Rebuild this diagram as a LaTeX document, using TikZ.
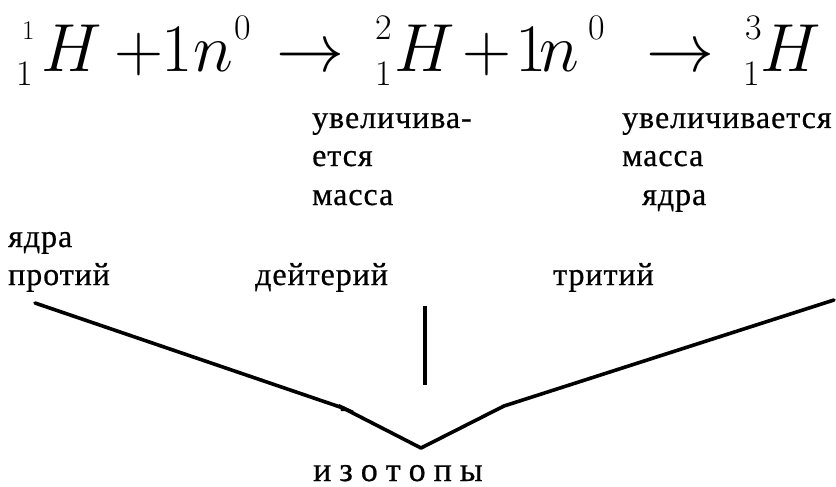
\documentclass[tikz,border=0pt]{standalone}
\usepackage{graphicx}
\usepackage{fontspec}
\newfontfamily\labfont[LetterSpace=3,FakeBold=0.6]{Liberation Serif}
\newcommand{\spaced}[1]{\def\spcsep{}\spacedaux#1\relax}
\def\spacedaux#1{\ifx#1\relax\else\spcsep#1\def\spcsep{\kern8pt}\expandafter\spacedaux\fi}
\newcommand{\bigmath}[1]{\scalebox{2.733}{\fontsize{24.88}{26}\selectfont$#1$}}
\begin{document}
\begin{tikzpicture}[x=1pt,y=-1pt,
  big/.style={inner sep=0pt, anchor=base west, font=\fontsize{68}{70}\selectfont},
  scr/.style={inner sep=0pt, anchor=base west, font=\fontsize{36}{38}\selectfont},
  scrs/.style={inner sep=0pt, anchor=base west, font=\fontsize{27}{30}\selectfont},
  lab/.style={inner sep=0pt, anchor=base west, font=\labfont\fontsize{32}{34}\selectfont},
  isolab/.style={inner sep=0pt, anchor=base west, font=\labfont\fontsize{34}{36}\selectfont},
  ln/.style={line width=3.6pt, line join=round, line cap=round}]
\useasboundingbox (0,0) rectangle (836,487);
% formula
\node[scrs] (s1a) at (22,40) {1};
\node[scr]  (s1b) at (16,86) {1};
\node[big]  (H1)  at (41,72) {\bigmath{H}};
\node[big]  (pl1) at (114,72) {+};
\node[big]  (one1) at (161,72) {1};
\node[big]  (n1)  at (193,72) {\bigmath{n}};
\node[scr]  (z1)  at (234,40) {0};
\node[big]  (ar1) at (276,72) {\bigmath{\rightarrow}};
\node[scr]  (s2a) at (375,40) {2};
\node[scr]  (s2b) at (375,86) {1};
\node[big]  (H2)  at (394,72) {\bigmath{H}};
\node[big]  (pl2) at (462,72) {+};
\node[big]  (one2) at (515,72) {1};
\node[big]  (n2)  at (539,72) {\bigmath{n}};
\node[scr]  (z2)  at (588,40) {0};
\node[big]  (ar2) at (646,72) {\bigmath{\rightarrow}};
\node[scr]  (s3a) at (745,40) {3};
\node[scr]  (s3b) at (743,86) {1};
\node[big]  (H3)  at (760,72) {\bigmath{H}};
% labels
\node[lab] (u1) at (312,128) {увеличива-};
\node[lab] (u2) at (312,166) {ется};
\node[lab] (u3) at (312,205) {масса};
\node[lab] (w1) at (622,128) {увеличивается};
\node[lab] (w2) at (622,166) {масса};
\node[lab] (w3) at (642,205) {ядра};
\node[lab] (p0) at (8,247) {ядра};
\node[lab] (p1) at (8,285) {протий};
\node[lab] (d1) at (255,285) {дейтерий};
\node[lab] (t1) at (553,285) {тритий};
\node[isolab] (iz) at (313,481) {\spaced{изотопы}};
% connectors
\coordinate (v)  at (421,448);
\coordinate (lA) at (35,303);
\coordinate (lB) at (343,408);
\coordinate (rB) at (504,406);
\coordinate (rA) at (834,300);
\coordinate (mT) at (425,306);
\coordinate (mB) at (425,385);
\draw[ln] (lA) -- (lB) -- (v) -- (rB) -- (rA);
\draw[ln, line cap=butt] (mT) -- (mB);
\fill (339,404) -- (354,411) -- (341,411) -- cycle;
\end{tikzpicture}
\end{document}
